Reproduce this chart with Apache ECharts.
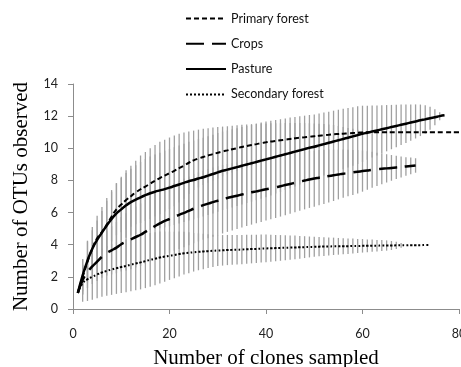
<!DOCTYPE html>
<html>
<head>
<meta charset="utf-8">
<script src="https://cdn.jsdelivr.net/npm/echarts@6/dist/echarts.min.js"></script>
<style>
html,body{margin:0;padding:0;background:#fff;}
#chart{width:461px;height:367px;}
</style>
</head>
<body>
<div id="chart"></div>
<script>
// number of clones sampled: 1,2,3... (one value per clone)
var primaryMean = [1.0,2.0,2.95,3.75,4.4,4.8,5.25,5.75,6.2,6.5,
	6.78,7.02,7.25,7.45,7.62,7.8,7.98,8.15,8.3,8.45,
	8.6,8.76,8.92,9.1,9.25,9.36,9.46,9.55,9.64,9.72,
	9.8,9.87,9.94,10.01,10.08,10.14,10.2,10.26,10.32,10.37,
	10.42,10.46,10.5,10.54,10.58,10.62,10.66,10.69,10.72,10.75,
	10.78,10.81,10.84,10.87,10.89,10.91,10.93,10.95,10.97,10.99,
	11,11,11,11,11,11,11,11,11,11,
	11,11,11,11,11,11,11,11,11,11];
var primarySd = [0,1.1,1.3,1.15,1.1,1.3,1.48,1.55,1.62,1.73,
	1.85,1.9,1.98,2.1,2.15,2.2,2.22,2.25,2.23,2.22,
	2.2,2.14,2.06,1.95,1.85,1.8,1.75,1.7,1.65,1.6,
	1.55,1.5,1.46,1.42,1.38,1.34,1.3,1.26,1.22,1.18,
	1.14,1.1,1.06,1.03,1.0,0.96,0.92,0.88,0.84,0.8,
	0.75,0.7,0.64,0.58,0.5,0.42,0.34,0.26,0.18,0.1];

var cropsMean = [1.0,1.8,2.3,2.65,2.95,3.25,3.48,3.65,3.82,4.03,
	4.18,4.33,4.48,4.62,4.8,4.98,5.16,5.33,5.48,5.6,
	5.73,5.86,5.98,6.1,6.24,6.35,6.46,6.56,6.65,6.74,
	6.83,6.91,6.98,7.05,7.12,7.19,7.26,7.32,7.38,7.45,
	7.51,7.57,7.64,7.71,7.78,7.85,7.92,7.99,8.06,8.12,
	8.17,8.22,8.27,8.32,8.37,8.42,8.46,8.5,8.54,8.58,
	8.62,8.66,8.69,8.72,8.75,8.78,8.81,8.84,8.87,8.9,
	8.93];
var cropsSd = [0,0.9,1.0,1.1,1.2,1.3,1.4,1.5,1.6,1.7,
	1.78,1.85,1.9,1.95,2.0,2.02,2.04,2.06,2.08,2.1,
	2.11,2.12,2.13,2.14,2.15,2.15,2.15,2.15,2.15,2.15,
	2.13,2.11,2.09,2.07,2.05,2.03,2.01,1.99,1.97,1.95,
	1.93,1.91,1.89,1.87,1.85,1.83,1.81,1.79,1.77,1.75,
	1.72,1.69,1.65,1.6,1.55,1.5,1.45,1.4,1.35,1.28,
	1.2,1.12,1.04,0.96,0.88,0.8,0.72,0.65,0.58,0.52,
	0.45];

var pastureMean = [1.0,2.1,3.0,3.75,4.3,4.75,5.2,5.6,5.95,6.2,
	6.45,6.65,6.8,6.95,7.08,7.2,7.3,7.38,7.46,7.55,
	7.65,7.75,7.85,7.95,8.03,8.12,8.2,8.3,8.4,8.5,
	8.6,8.67,8.75,8.83,8.91,8.99,9.07,9.15,9.23,9.31,
	9.39,9.47,9.55,9.63,9.71,9.79,9.87,9.95,10.03,10.1,
	10.18,10.26,10.34,10.42,10.5,10.58,10.66,10.74,10.82,10.9,
	10.97,11.04,11.11,11.18,11.25,11.32,11.39,11.46,11.53,11.6,
	11.67,11.74,11.8,11.87,11.93,12.0,12.05];
var pastureSd = [0,1.0,1.2,1.35,1.5,1.6,1.7,1.8,1.88,1.95,
	2.02,2.08,2.14,2.2,2.25,2.29,2.32,2.35,2.38,2.4,
	2.42,2.43,2.44,2.45,2.45,2.45,2.45,2.45,2.45,2.45,
	2.44,2.44,2.43,2.42,2.41,2.4,2.39,2.38,2.37,2.35,
	2.32,2.29,2.26,2.23,2.2,2.16,2.12,2.08,2.04,2.0,
	1.98,1.96,1.94,1.92,1.9,1.88,1.85,1.82,1.79,1.75,
	1.68,1.62,1.56,1.5,1.44,1.38,1.32,1.26,1.2,1.13,
	1.06,0.98,0.88,0.72,0.5,0.25,0];

var secondaryMean = [1.0,1.6,1.85,2.0,2.15,2.27,2.37,2.46,2.54,2.61,
	2.68,2.76,2.83,2.9,2.98,3.06,3.13,3.2,3.26,3.31,
	3.36,3.42,3.47,3.5,3.53,3.56,3.58,3.6,3.62,3.64,
	3.65,3.67,3.68,3.69,3.7,3.72,3.73,3.74,3.76,3.77,
	3.78,3.79,3.8,3.81,3.82,3.83,3.84,3.85,3.86,3.87,
	3.88,3.885,3.89,3.9,3.9,3.91,3.91,3.92,3.92,3.93,
	3.93,3.94,3.94,3.95,3.95,3.95,3.96,3.96,3.96,3.97,
	3.97,3.97,3.98,3.98];
var secondarySd = [0,1.15,1.35,1.42,1.48,1.5,1.55,1.58,1.6,1.62,
	1.64,1.66,1.67,1.68,1.68,1.67,1.65,1.62,1.56,1.5,
	1.45,1.4,1.33,1.27,1.2,1.15,1.1,1.05,1.0,0.96,
	0.95,0.94,0.93,0.92,0.91,0.9,0.89,0.88,0.87,0.86,
	0.84,0.82,0.8,0.78,0.76,0.74,0.71,0.68,0.65,0.62,
	0.6,0.58,0.56,0.54,0.52,0.5,0.48,0.46,0.44,0.42,
	0.4,0.38,0.36,0.34,0.32,0.28,0.22,0.15];

var seriesNames = ['Primary forest','Crops','Pasture','Secondary forest'];
var xTicks = [0,20,40,60,80];
var yTicks = [0,2,4,6,8,10,12,14];

//点数据 [x, y]
function toPoints(arr){
	var out = [];
	for(var i=0;i<arr.length;i++){
		out.push([i+1, arr[i]]);
	}
	return out;
}
//误差线 [x, low, high]
function toBars(mean, sd){
	var out = [];
	for(var i=0;i<sd.length && i<mean.length;i++){
		if(sd[i] > 0){
			out.push([i+1, mean[i]-sd[i], mean[i]+sd[i]]);
		}
	}
	return out;
}

function renderBar(params, api){
	var x = api.value(0);
	var p1 = api.coord([x, api.value(1)]);
	var p2 = api.coord([x, api.value(2)]);
	return {
		type:'line',
		shape:{x1:p1[0], y1:p1[1], x2:p2[0], y2:p2[1]},
		style:{stroke:'#a0a0a0', lineWidth:1.3}
	};
}

function errSeries(mean, sd){
	return {
		type:'custom',
		name:'err',
		renderItem:renderBar,
		data:toBars(mean, sd),
		encode:{x:0, y:[1,2]},
		silent:true,
		z:1
	};
}

function lineSeries(name, arr, dash, width){
	return {
		type:'line',
		name:name,
		data:toPoints(arr),
		symbol:'none',
		smooth:true,
		lineStyle:{color:'#000', width:width, type:dash},
		itemStyle:{color:'#000'},
		z:3
	};
}

function draw(){
	var axisColor = '#8c8c8c';
	var option = {
		animation:false,
		backgroundColor:'#fff',
		grid:{left:73, right:2, top:84, bottom:58, outerBoundsMode:'none', containLabel:false},
		legend:{
			data:seriesNames,
			orient:'vertical',
			left:180,
			top:7,
			itemWidth:40,
			itemHeight:14,
			itemGap:12.3,
			itemStyle:{opacity:0},
			textStyle:{fontFamily:'Lato', fontSize:12.5, color:'#111'}
		},
		xAxis:{
			type:'value',
			min:xTicks[0],
			max:xTicks[xTicks.length-1],
			interval:20,
			name:'Number of clones sampled',
			nameLocation:'middle',
			nameGap:39,
			nameTextStyle:{fontFamily:'Liberation Serif', fontSize:21, color:'#000'},
			axisLine:{lineStyle:{color:axisColor}},
			axisTick:{length:5, lineStyle:{color:axisColor}},
			axisLabel:{margin:18, fontFamily:'Lato', fontSize:12.5, color:'#222'},
			splitLine:{show:false}
		},
		yAxis:{
			type:'value',
			min:yTicks[0],
			max:yTicks[yTicks.length-1],
			interval:2,
			name:'Number of OTUs observed',
			nameLocation:'middle',
			nameGap:41,
			nameTextStyle:{fontFamily:'Liberation Serif', fontSize:21, color:'#000'},
			axisLine:{show:true, lineStyle:{color:axisColor}},
			axisTick:{show:true, length:5, lineStyle:{color:axisColor}},
			axisLabel:{margin:15, fontFamily:'Lato', fontSize:12.5, color:'#222'},
			splitLine:{show:false}
		},
		series:[
			errSeries(primaryMean, primarySd),
			errSeries(cropsMean, cropsSd),
			errSeries(pastureMean, pastureSd),
			errSeries(secondaryMean, secondarySd),
			lineSeries(seriesNames[0], primaryMean, [5,3], 2),
			lineSeries(seriesNames[1], cropsMean, [18,8], 2.5),
			lineSeries(seriesNames[2], pastureMean, 'solid', 2.5),
			lineSeries(seriesNames[3], secondaryMean, [2,2], 2)
		]
	};
	var myChart = echarts.init(document.getElementById('chart'));
	myChart.setOption(option);
}

draw();
</script>
</body>
</html>
